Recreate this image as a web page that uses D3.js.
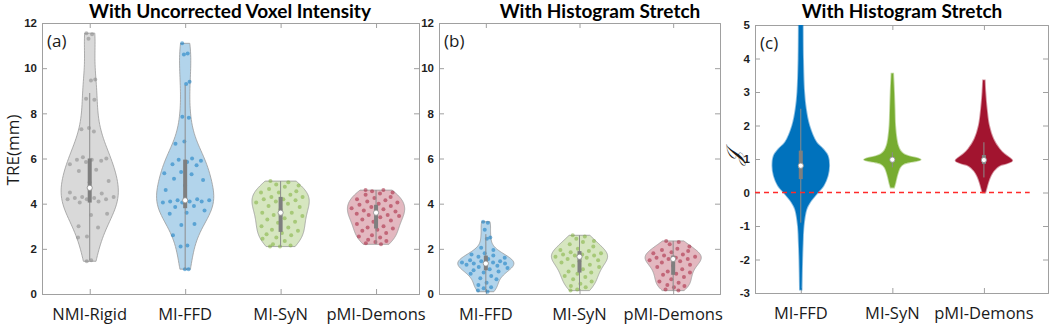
<!DOCTYPE html>
<html>
<head>
<meta charset="utf-8">
<script src="https://cdn.jsdelivr.net/npm/d3@7"></script>
<style>
  body { margin: 0; background: #fff; }
  svg { display: block; }
  .ylab { font-family: 'Liberation Sans', Arial, sans-serif; font-size: 11.5px; font-weight: 700; fill: #1f1f1f; }
</style>
</head>
<body>
<div id="chart"></div>
<script>
// categories
var groupsA = ["NMI-Rigid", "MI-FFD", "MI-SyN", "pMI-Demons"];
var groupsBC = ["MI-FFD", "MI-SyN", "pMI-Demons"];

// panel (a): TRE (mm), uncorrected voxel intensity
var treRigidA = [11.55, 11.5, 11.3, 9.5, 9.45, 8.65, 8.6, 7.35, 7.3, 7.2, 6.05, 6.0, 5.95, 5.95, 5.9, 5.85, 5.75, 5.5, 5.45, 5.0,
  4.95, 4.5, 4.45, 4.3, 4.3, 4.25, 4.25, 4.2, 4.2, 4.2, 4.1, 4.05, 3.55, 3.5, 3.0, 2.95, 2.55, 2.5, 1.5, 1.45];
var treFfdA = [11.1, 10.65, 10.6, 9.4, 9.3, 7.85, 7.8, 6.75, 6.65, 6.0, 5.95, 5.9, 5.85, 5.75, 5.7, 5.4, 5.35, 5.3, 5.1, 5.05,
  4.8, 4.6, 4.2, 4.15, 4.15, 4.1, 4.1, 4.1, 4.05, 4.05, 3.9, 3.85, 3.7, 3.6, 3.55, 3.1, 3.05, 2.6, 2.15, 2.1, 1.1, 1.1];
var treSynA = [5.0, 4.95, 4.85, 4.8, 4.75, 4.65, 4.55, 4.5, 4.5, 4.4, 4.3, 4.3, 4.2, 4.2, 4.15, 4.1, 4.05, 4.0, 3.9, 3.85,
  3.75, 3.6, 3.6, 3.5, 3.45, 3.35, 3.3, 3.2, 3.15, 3.0, 2.95, 2.85, 2.8, 2.7, 2.65, 2.6, 2.5, 2.45, 2.35, 2.2, 2.15, 2.1, 2.1];
var treDemonsA = [4.6, 4.6, 4.55, 4.5, 4.45, 4.4, 4.3, 4.25, 4.2, 4.15, 4.1, 4.05, 4.0, 3.95, 3.9, 3.85, 3.8, 3.75, 3.7, 3.65,
  3.6, 3.55, 3.5, 3.5, 3.45, 3.4, 3.3, 3.25, 3.2, 3.1, 3.0, 2.95, 2.9, 2.85, 2.8, 2.7, 2.6, 2.55, 2.5, 2.4, 2.35, 2.3, 2.25, 2.2];

// panel (b): TRE (mm), histogram stretch
var treFfdB = [3.2, 3.15, 2.85, 2.5, 2.45, 2.05, 1.95, 1.8, 1.75, 1.7, 1.65, 1.6, 1.55, 1.5, 1.45, 1.45, 1.4, 1.4, 1.35, 1.35,
  1.3, 1.3, 1.25, 1.2, 1.15, 1.1, 1.05, 1.0, 0.95, 0.9, 0.8, 0.7, 0.65, 0.5, 0.4, 0.3, 0.25, 0.15, 0.1];
var treSynB = [2.6, 2.55, 2.45, 2.35, 2.3, 2.2, 2.1, 2.0, 1.95, 1.9, 1.85, 1.8, 1.75, 1.75, 1.7, 1.7, 1.65, 1.6, 1.55, 1.5,
  1.45, 1.4, 1.3, 1.25, 1.2, 1.1, 1.0, 0.95, 0.9, 0.8, 0.75, 0.65, 0.55, 0.45, 0.35, 0.3, 0.2, 0.15];
var treDemonsB = [2.35, 2.3, 2.2, 2.1, 2.0, 1.95, 1.9, 1.85, 1.8, 1.75, 1.7, 1.65, 1.6, 1.6, 1.55, 1.55, 1.5, 1.45, 1.4, 1.3,
  1.25, 1.2, 1.1, 1.0, 0.95, 0.9, 0.85, 0.75, 0.65, 0.55, 0.5, 0.4, 0.35, 0.3, 0.2, 0.15];

// summary stats: [median, q1, q3, whisker low, whisker high]
var statsA = [[4.7, 4.05, 6.0, 1.5, 8.9], [4.15, 3.8, 5.95, 1.1, 9.25], [3.6, 2.75, 4.3, 2.1, 5.0], [3.6, 2.9, 3.95, 2.2, 4.6]];
var statsB = [[1.35, 1.05, 1.7, 0.1, 2.65], [1.65, 0.95, 1.9, 0.15, 2.6], [1.55, 0.85, 1.7, 0.15, 2.35]];
var statsC = [[0.8, 0.4, 1.25, -0.9, 2.5], [0.98, 0.93, 1.05, 0.75, 1.2], [0.97, 0.85, 1.12, 0.45, 1.5]];

// panel (c): Jacobian determinant, too many voxels to list -> density profile
var jacLevelsFfd = [5.2, 4.0, 3.0, 2.5, 2.0, 1.5, 1.3, 1.1, 0.8, 0.5, 0.2, 0.0, -0.3, -0.5, -1.0, -1.5, -2.0, -2.9];
var jacDensFfd = [0.07, 0.08, 0.12, 0.18, 0.3, 0.55, 0.78, 0.95, 1.0, 0.95, 0.8, 0.6, 0.32, 0.2, 0.1, 0.07, 0.05, 0.03];
var jacLevelsSyn = [3.55, 3.0, 2.5, 2.0, 1.6, 1.4, 1.25, 1.15, 1.08, 1.02, 0.98, 0.94, 0.9, 0.85, 0.75, 0.6, 0.45, 0.3, 0.15];
var jacDensSyn = [0.03, 0.06, 0.08, 0.1, 0.15, 0.2, 0.28, 0.4, 0.6, 0.9, 1.0, 0.85, 0.6, 0.4, 0.27, 0.2, 0.15, 0.11, 0.06];
var jacLevelsDemons = [3.35, 3.0, 2.5, 2.0, 1.6, 1.3, 1.15, 1.05, 0.95, 0.88, 0.8, 0.65, 0.5, 0.3, 0.15, 0.0];
var jacDensDemons = [0.03, 0.05, 0.1, 0.18, 0.33, 0.55, 0.72, 0.88, 1.0, 0.85, 0.55, 0.35, 0.24, 0.15, 0.1, 0.05];

var yTicksTre = [0, 2, 4, 6, 8, 10, 12];
var yTicksJac = [-3, -2, -1, 0, 1, 2, 3, 4, 5];

var colGray = "#808080", colBlue = "#0072BD", colGreen = "#77AC30", colRed = "#A2142F";

var width = 1050, height = 331;
var halfWidth = 0.3; // violin half width in category units

var svg = d3.select("#chart").append("svg")
  .attr("width", width)
  .attr("height", height)
  .style("font-family", "'Liberation Sans', Arial, sans-serif");

svg.append("rect").attr("width", width).attr("height", height).attr("fill", "#fff");

// gaussian kde evaluated between min and max, normalised to 1
function kde(values, bw, n) {
  var lo = d3.min(values), hi = d3.max(values);
  var grid = d3.range(n + 1).map(function(i) { return lo + (hi - lo) * i / n; });
  var dens = grid.map(function(g) {
    return d3.sum(values, function(v) { var z = (g - v) / bw; return Math.exp(-0.5 * z * z); });
  });
  var mx = d3.max(dens);
  return grid.map(function(g, i) { return { v: g, d: dens[i] / mx }; });
}

function densAt(prof, v) {
  for (var i = 1; i < prof.length; i++) {
    if (v <= prof[i].v) {
      var a = prof[i - 1], b = prof[i];
      var t = (b.v - a.v) === 0 ? 0 : (v - a.v) / (b.v - a.v);
      return a.d + (b.d - a.d) * t;
    }
  }
  return prof[prof.length - 1].d;
}

function makePanel(cfg) {
  var g = svg.append("g");
  var x = d3.scaleLinear().domain(cfg.xdom).range([cfg.left, cfg.right]);
  var y = d3.scaleLinear().domain(cfg.ydom).range([cfg.bottom, cfg.top]);
  var clipId = "clip" + cfg.id;
  svg.append("clipPath").attr("id", clipId).append("rect")
    .attr("x", cfg.left).attr("y", cfg.top)
    .attr("width", cfg.right - cfg.left).attr("height", cfg.bottom - cfg.top);

  // box + ticks
  var axL = d3.axisLeft(y).tickValues(cfg.yticks).tickSize(-5).tickPadding(9)
    .tickFormat(function(d) { return String(d); });
  var axR = d3.axisRight(y).tickValues(cfg.yticks).tickSize(-5).tickFormat("");
  var cats = d3.range(1, cfg.groups.length + 1);
  var axB = d3.axisBottom(x).tickValues(cats).tickSize(-5).tickFormat("");
  var axT = d3.axisTop(x).tickValues(cats).tickSize(-5).tickFormat("");

  var gl = g.append("g").attr("transform", "translate(" + cfg.left + ",0)").call(axL);
  g.append("g").attr("transform", "translate(" + cfg.right + ",0)").call(axR);
  g.append("g").attr("transform", "translate(0," + cfg.bottom + ")").call(axB);
  g.append("g").attr("transform", "translate(0," + cfg.top + ")").call(axT);
  g.selectAll(".domain").attr("stroke", "#a0a0a0");
  g.selectAll(".tick line").attr("stroke", "#a0a0a0");
  gl.attr("font-family", null).attr("font-size", null);
  gl.selectAll(".tick text")
    .attr("x", -5)
    .attr("fill", null)
    .attr("class", "ylab");

  // category labels
  g.selectAll(".cat").data(cfg.groups).enter().append("text")
    .attr("x", function(d, i) { return x(i + 1); })
    .attr("y", cfg.bottom + 26)
    .attr("text-anchor", "middle")
    .style("font-family", "'Open Sans', sans-serif")
    .style("font-size", "16.5px")
    .attr("fill", "#1a1a1a")
    .text(function(d) { return d; });

  // panel letter
  g.append("text")
    .attr("x", cfg.left + 5)
    .attr("y", cfg.top + 24)
    .style("font-family", "'Open Sans', sans-serif")
    .style("font-size", "17px")
    .attr("fill", "#1a1a1a")
    .text(cfg.letter);

  // title
  svg.append("text")
    .attr("x", cfg.titleX)
    .attr("y", 17.5)
    .attr("text-anchor", "middle")
    .style("font-family", "Lato, sans-serif")
    .style("font-weight", "bold")
    .style("font-size", "19px")
    .attr("fill", "#000")
    .text(cfg.title);

  var plot = g.append("g").attr("clip-path", "url(#" + clipId + ")");
  var unit = x(2) - x(1);
  return { g: g, plot: plot, x: x, y: y, unit: unit };
}

function drawSummary(p, pos, s) {
  var cx = p.x(pos);
  p.plot.append("line")
    .attr("x1", cx).attr("x2", cx)
    .attr("y1", p.y(s[3])).attr("y2", p.y(s[4]))
    .attr("stroke", "#8c8c8c").attr("stroke-width", 1);
  p.plot.append("rect")
    .attr("x", cx - 2).attr("width", 4)
    .attr("y", p.y(s[2])).attr("height", p.y(s[1]) - p.y(s[2]))
    .attr("fill", "#7f7f7f");
  p.plot.append("circle")
    .attr("cx", cx).attr("cy", p.y(s[0])).attr("r", 2.6)
    .attr("fill", "#fff").attr("stroke", "#8c8c8c").attr("stroke-width", 0.8);
}

function drawScatterViolin(p, pos, values, bw, col, stats) {
  var prof = kde(values, bw, 80);
  var hw = halfWidth * p.unit;
  var cx = p.x(pos);
  var area = d3.area()
    .y(function(d) { return p.y(d.v); })
    .x0(function(d) { return cx - d.d * hw; })
    .x1(function(d) { return cx + d.d * hw; })
    .curve(d3.curveBasis);
  p.plot.append("path").datum(prof)
    .attr("d", area)
    .attr("fill", col).attr("fill-opacity", 0.3)
    .attr("stroke", "#9a9a9a").attr("stroke-width", 0.8);

  // jittered points inside the density envelope
  p.plot.selectAll(null).data(values).enter().append("circle")
    .attr("cx", function(v, i) {
      var u = ((i * 0.618034 + 0.137) % 1) * 2 - 1;
      return cx + u * densAt(prof, v) * hw * 0.9;
    })
    .attr("cy", function(v) { return p.y(v); })
    .attr("r", 2)
    .attr("fill", col).attr("fill-opacity", 0.5);

  drawSummary(p, pos, stats);
}

function drawDenseViolin(p, pos, levels, dens, col, stats) {
  var hw = 0.31 * p.unit;
  var cx = p.x(pos);
  var prof = levels.map(function(v, i) { return { v: v, d: dens[i] }; });
  var area = d3.area()
    .y(function(d) { return p.y(d.v); })
    .x0(function(d) { return cx - d.d * hw; })
    .x1(function(d) { return cx + d.d * hw; })
    .curve(d3.curveCatmullRom);
  p.plot.append("path").datum(prof)
    .attr("d", area)
    .attr("fill", col)
    .attr("stroke", col).attr("stroke-opacity", 0.45).attr("stroke-width", 1.8);
  drawSummary(p, pos, stats);
}

// ---- panel (a)
var pa = makePanel({
  id: "a", left: 42, right: 419, top: 23, bottom: 294,
  xdom: [0.5, 4.45], ydom: [0, 12], yticks: yTicksTre,
  groups: groupsA, letter: "(a)", title: "With Uncorrected Voxel Intensity", titleX: 230
});
drawScatterViolin(pa, 1, treRigidA, 0.95, colGray, statsA[0]);
drawScatterViolin(pa, 2, treFfdA, 0.85, colBlue, statsA[1]);
drawScatterViolin(pa, 3, treSynA, 0.5, colGreen, statsA[2]);
drawScatterViolin(pa, 4, treDemonsA, 0.4, colRed, statsA[3]);

svg.append("text")
  .attr("transform", "translate(19,150) rotate(-90)")
  .attr("text-anchor", "middle")
  .style("font-family", "'Open Sans', sans-serif")
  .style("font-size", "17px")
  .attr("fill", "#1a1a1a")
  .text("TRE(mm)");

// ---- panel (b)
var pb = makePanel({
  id: "b", left: 439, right: 720, top: 23, bottom: 294,
  xdom: [0.5, 3.5], ydom: [0, 12], yticks: yTicksTre,
  groups: groupsBC, letter: "(b)", title: "With Histogram Stretch", titleX: 600
});
drawScatterViolin(pb, 1, treFfdB, 0.28, colBlue, statsB[0]);
drawScatterViolin(pb, 2, treSynB, 0.35, colGreen, statsB[1]);
drawScatterViolin(pb, 3, treDemonsB, 0.3, colRed, statsB[2]);

// ---- panel (c)
var pc = makePanel({
  id: "c", left: 755, right: 1048, top: 25, bottom: 293,
  xdom: [0.5, 3.7], ydom: [-3, 5], yticks: yTicksJac,
  groups: groupsBC, letter: "(c)", title: "With Histogram Stretch", titleX: 902
});
drawDenseViolin(pc, 1, jacLevelsFfd, jacDensFfd, colBlue, statsC[0]);
drawDenseViolin(pc, 2, jacLevelsSyn, jacDensSyn, colGreen, statsC[1]);
drawDenseViolin(pc, 3, jacLevelsDemons, jacDensDemons, colRed, statsC[2]);

// zero reference line
pc.g.append("line")
  .attr("x1", pc.x(0.5)).attr("x2", pc.x(3.5))
  .attr("y1", pc.y(0)).attr("y2", pc.y(0))
  .attr("stroke", "#ff2a2a").attr("stroke-width", 1.6)
  .attr("stroke-dasharray", "5,4");

svg.append("text")
  .attr("transform", "translate(741,158) rotate(-90)")
  .attr("text-anchor", "middle")
  .style("font-family", "'DejaVu Serif', serif")
  .style("font-style", "italic")
  .style("font-size", "21px")
  .attr("fill", "#1a1a1a")
  .text("𝒥");
</script>
</body>
</html>
